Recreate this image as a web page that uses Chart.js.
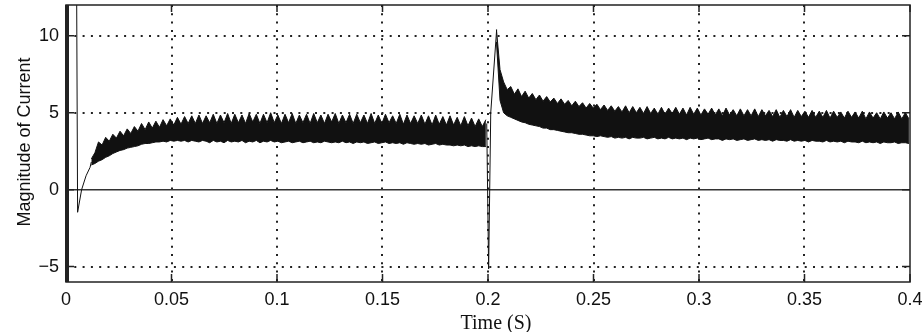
<!DOCTYPE html>
<html>
<head>
<meta charset="utf-8">
<script src="https://cdn.jsdelivr.net/npm/chart.js@4.4.1/dist/chart.umd.min.js"></script>
<style>
  html, body { margin: 0; padding: 0; background: #fff; }
  #currentChart { display: block; }
</style>
</head>
<body>
<canvas id="currentChart" width="924" height="332"></canvas>
<script>
// axis ticks
const xTicks = [0, 0.05, 0.1, 0.15, 0.2, 0.25, 0.3, 0.35, 0.4];
const yTicks = [-5, 0, 5, 10];

// start-up transient (thin trace)
const startTime = [0, 0, 0.0045, 0.0055, 0.0074, 0.0095, 0.0114, 0.012];
const startCurrent = [0, 30, 30, -1.47, 0, 0.9, 1.45, 1.8];

// load step at 0.2 s (thin trace)
const stepTime = [0.1994, 0.2003, 0.2013, 0.2041];
const stepCurrent = [4.3, -5.15, 5.0, 10.4];

// ripple band before the step: samples every 0.0017 s from 0.012 s
const bandAStart = 0.012;
const bandStep = 0.0017;
const upperA = [
  2.0, 2.4, 3.1, 2.9, 3.4, 3.15, 3.6, 3.35, 3.8, 3.5,
  3.95, 3.65, 4.1, 3.8, 4.3, 3.9, 4.4, 4.0, 4.45, 4.05,
  4.55, 4.15, 4.6, 4.2, 4.7, 4.25, 4.75, 4.3, 4.8, 4.3,
  4.85, 4.3, 4.8, 4.35, 4.9, 4.3, 4.85, 4.35, 4.95, 4.3,
  4.9, 4.35, 4.85, 4.3, 4.95, 4.4, 4.9, 4.3, 4.9, 4.35,
  5.0, 4.35, 4.85, 4.3, 4.9, 4.35, 4.95, 4.3, 4.85, 4.35,
  4.9, 4.3, 4.95, 4.35, 4.85, 4.3, 4.9, 4.4, 4.95, 4.3,
  4.85, 4.35, 4.9, 4.3, 4.9, 4.35, 4.85, 4.3, 4.95, 4.3,
  4.85, 4.3, 4.9, 4.35, 4.8, 4.3, 4.9, 4.25, 4.85, 4.3,
  4.8, 4.3, 4.85, 4.25, 4.8, 4.2, 4.85, 4.25, 4.75, 4.2,
  4.8, 4.2, 4.7, 4.15, 4.75, 4.15, 4.65, 4.1, 4.6, 4.1, 4.55
];
const lowerA = [
  1.6, 1.7, 1.85, 1.95, 2.1, 2.2, 2.35, 2.45, 2.55, 2.6,
  2.7, 2.75, 2.8, 2.85, 2.95, 3.0, 3.0, 3.05, 3.1, 3.1,
  3.15, 3.1, 3.2, 3.15, 3.2, 3.15, 3.2, 3.1, 3.2, 3.15,
  3.1, 3.2, 3.15, 3.05, 3.2, 3.1, 3.15, 3.05, 3.2, 3.1,
  3.15, 3.1, 3.2, 3.05, 3.15, 3.1, 3.2, 3.05, 3.15, 3.1,
  3.2, 3.1, 3.15, 3.05, 3.1, 3.15, 3.05, 3.1, 3.15, 3.05,
  3.1, 3.15, 3.05, 3.1, 3.05, 3.15, 3.1, 3.05, 3.1, 3.05,
  3.15, 3.05, 3.1, 3.0, 3.1, 3.05, 3.1, 3.0, 3.05, 3.1,
  3.0, 3.05, 3.1, 3.0, 3.05, 3.0, 3.05, 2.95, 3.05, 3.0,
  2.95, 3.0, 2.95, 3.0, 2.9, 2.95, 3.0, 2.9, 2.95, 2.9,
  2.9, 2.85, 2.9, 2.85, 2.9, 2.8, 2.85, 2.8, 2.85, 2.8, 2.8
];

// ripple band after the step: samples every 0.0017 s from 0.204 s
const bandBStart = 0.204;
const upperB = [
  10.4, 7.8, 7.0, 6.5, 6.7, 6.2, 6.55, 6.05, 6.4, 5.95,
  6.25, 5.85, 6.15, 5.75, 6.05, 5.7, 5.95, 5.6, 5.9, 5.55,
  5.8, 5.45, 5.75, 5.4, 5.65, 5.3, 5.6, 5.3, 5.55, 5.2,
  5.5, 5.15, 5.45, 5.1, 5.4, 5.05, 5.45, 5.0, 5.4, 5.0,
  5.35, 4.95, 5.4, 4.95, 5.3, 4.9, 5.35, 4.9, 5.3, 4.95,
  5.35, 4.9, 5.3, 4.85, 5.35, 4.9, 5.3, 4.85, 5.25, 4.9,
  5.3, 4.85, 5.25, 4.8, 5.3, 4.85, 5.2, 4.8, 5.25, 4.8,
  5.2, 4.8, 5.25, 4.75, 5.2, 4.8, 5.15, 4.75, 5.2, 4.7,
  5.15, 4.75, 5.2, 4.7, 5.15, 4.75, 5.1, 4.7, 5.15, 4.7,
  5.1, 4.7, 5.15, 4.65, 5.1, 4.7, 5.05, 4.65, 5.1, 4.7,
  5.05, 4.65, 5.1, 4.6, 5.05, 4.65, 5.0, 4.6, 5.05, 4.65,
  5.0, 4.6, 5.05, 4.6, 5.0, 4.6
];
const lowerB = [
  9.6, 5.8, 5.0, 4.8, 4.7, 4.6, 4.5, 4.4, 4.35, 4.25,
  4.2, 4.15, 4.1, 4.0, 4.0, 3.9, 3.9, 3.85, 3.8, 3.75,
  3.7, 3.7, 3.65, 3.6, 3.6, 3.55, 3.5, 3.5, 3.45, 3.5,
  3.45, 3.4, 3.45, 3.35, 3.4, 3.35, 3.4, 3.3, 3.4, 3.35,
  3.35, 3.4, 3.3, 3.35, 3.4, 3.3, 3.35, 3.3, 3.4, 3.3,
  3.35, 3.3, 3.35, 3.25, 3.35, 3.3, 3.35, 3.25, 3.3, 3.35,
  3.25, 3.3, 3.3, 3.2, 3.3, 3.25, 3.3, 3.2, 3.25, 3.3,
  3.2, 3.25, 3.3, 3.2, 3.25, 3.2, 3.25, 3.15, 3.25, 3.2,
  3.2, 3.15, 3.25, 3.15, 3.2, 3.15, 3.2, 3.1, 3.2, 3.15,
  3.15, 3.1, 3.2, 3.1, 3.15, 3.1, 3.15, 3.05, 3.15, 3.1,
  3.1, 3.05, 3.15, 3.05, 3.1, 3.05, 3.1, 3.0, 3.1, 3.05,
  3.05, 3.1, 3.0, 3.05, 3.05, 3.0
];

function toPoints(times, values) {
  return values.map((v, i) => ({ x: times[i], y: v }));
}
function bandPoints(start, values) {
  return values.map((v, i) => ({ x: start + i * bandStep, y: v }));
}

function lineSet(data, fill) {
  return {
    data: data,
    borderColor: "#111",
    backgroundColor: "#111",
    borderWidth: 1,
    pointRadius: 0,
    tension: 0,
    fill: fill,
  };
}

// frame, zero line, inner tick marks and axis titles
const framePlugin = {
  id: "frame",
  beforeDatasetsDraw(chart) {
    const { ctx, chartArea: a, scales } = chart;
    const y0 = scales.y.getPixelForValue(0);
    ctx.save();
    ctx.strokeStyle = "#333";
    ctx.lineWidth = 1.5;
    ctx.beginPath();
    ctx.moveTo(a.left, y0);
    ctx.lineTo(a.right, y0);
    ctx.stroke();
    ctx.restore();
  },
  afterDraw(chart) {
    const { ctx, chartArea: a, scales } = chart;
    ctx.save();
    ctx.strokeStyle = "#222";
    ctx.lineWidth = 1.5;
    ctx.strokeRect(a.left, a.top, a.right - a.left, a.bottom - a.top);
    ctx.lineWidth = 4;
    ctx.beginPath();
    ctx.moveTo(a.left + 1, a.top);
    ctx.lineTo(a.left + 1, a.bottom);
    ctx.stroke();

    ctx.lineWidth = 1.5;
    ctx.beginPath();
    xTicks.forEach(v => {
      const px = scales.x.getPixelForValue(v);
      ctx.moveTo(px, a.bottom); ctx.lineTo(px, a.bottom - 8);
      ctx.moveTo(px, a.top); ctx.lineTo(px, a.top + 7);
    });
    yTicks.forEach(v => {
      const py = scales.y.getPixelForValue(v);
      ctx.moveTo(a.left, py); ctx.lineTo(a.left + 8, py);
      ctx.moveTo(a.right, py); ctx.lineTo(a.right - 8, py);
    });
    ctx.stroke();

    ctx.fillStyle = "#111";
    ctx.font = '18px "Liberation Sans", Arial, sans-serif';
    ctx.textAlign = "center";
    ctx.textBaseline = "middle";
    ctx.translate(25, 142);
    ctx.rotate(-Math.PI / 2);
    ctx.fillText("Magnitude of Current", 0, 0);
    ctx.restore();

    ctx.save();
    ctx.fillStyle = "#111";
    ctx.font = '20px "Liberation Serif", "Times New Roman", serif';
    ctx.textAlign = "center";
    ctx.textBaseline = "alphabetic";
    ctx.fillText("Time (S)", 496, 329);
    ctx.restore();
  },
};

const dotted = (hide) => ({
  color: (c) => (hide.includes(c.tick && c.tick.value) ? "rgba(0,0,0,0)" : "#222"),
  lineWidth: 2,
  drawTicks: false,
});

// drop the label overhang padding so the plot box sits where the reference has it
const noPad = (s) => {
  s.paddingTop = 0; s.paddingBottom = 0;
  s.paddingLeft = 0; s.paddingRight = 0;
};

new Chart(document.getElementById("currentChart").getContext("2d"), {
  type: "line",
  data: {
    datasets: [
      lineSet(bandPoints(bandAStart, lowerA), false),
      lineSet(bandPoints(bandAStart, upperA), "-1"),
      lineSet(bandPoints(bandBStart, lowerB), false),
      lineSet(bandPoints(bandBStart, upperB), "-1"),
      lineSet(toPoints(startTime, startCurrent), false),
      lineSet(toPoints(stepTime, stepCurrent), false),
    ],
  },
  options: {
    responsive: false,
    animation: false,
    devicePixelRatio: 1,
    layout: { padding: { left: 0, top: 5, right: 14, bottom: 0 } },
    plugins: {
      legend: { display: false },
      tooltip: { enabled: false },
    },
    scales: {
      x: {
        type: "linear",
        min: 0,
        max: 0.4,
        grid: dotted([0, 0.4]),
        border: { display: false, dash: [2, 6.3] },
        afterBuildTicks: (s) => { s.ticks = xTicks.map(v => ({ value: v })); },
        afterFit: (s) => { s.height = 50; noPad(s); },
        ticks: {
          autoSkip: false,
          maxRotation: 0,
          padding: 7,
          color: "#111",
          font: { family: '"Liberation Sans", Arial, sans-serif', size: 18 },
          callback: (v) => String(Math.round(v * 100) / 100),
        },
      },
      y: {
        min: -6,
        max: 12,
        grid: dotted([0]),
        border: { display: false, dash: [2, 6.3] },
        afterBuildTicks: (s) => { s.ticks = yTicks.map(v => ({ value: v })); },
        afterFit: (s) => { s.width = 66; noPad(s); },
        ticks: {
          padding: 7,
          color: "#111",
          font: { family: '"Liberation Sans", Arial, sans-serif', size: 18 },
          callback: (v) => (v < 0 ? "\u2212" + Math.abs(v) : String(v)),
        },
      },
    },
  },
  plugins: [framePlugin],
});
</script>
</body>
</html>
